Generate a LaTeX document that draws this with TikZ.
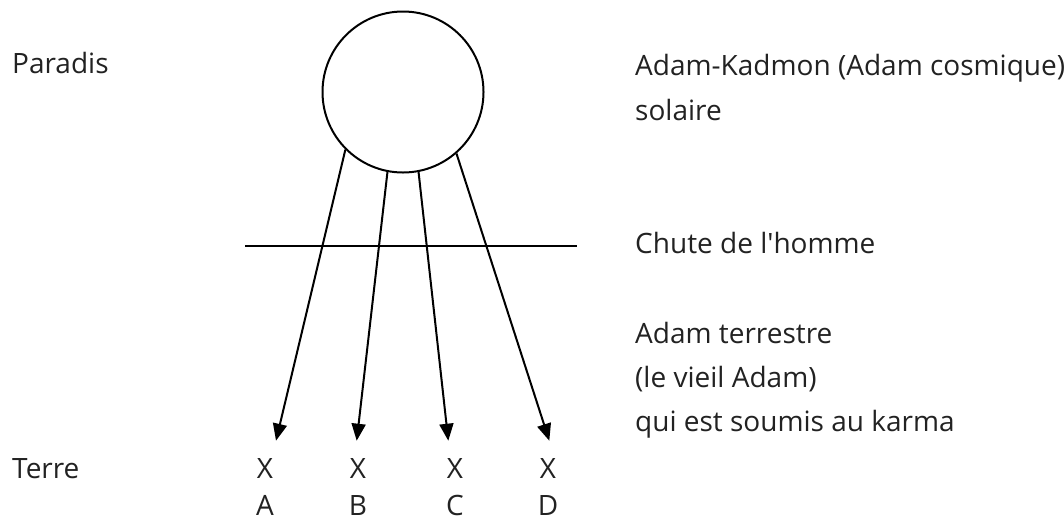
\documentclass[tikz,border=0pt]{standalone}
\usepackage{fontspec}
\newfontfamily\texte{Open Sans}
\usetikzlibrary{arrows.meta}
\definecolor{encre}{HTML}{222222}
\begin{document}
\begin{tikzpicture}[x=1pt, y=-1pt,
    etiquette/.style={font=\texte\fontsize{28}{44}\selectfont, text=encre, inner sep=0pt, anchor=base west},
    lettre/.style={font=\texte\fontsize{28}{44}\selectfont, text=encre, inner sep=0pt, anchor=base},
    fleche/.style={line width=2pt, -{Triangle[length=17pt,width=14pt]}}]
    \useasboundingbox (0,0) rectangle (1064,523);

    % Cercle solaire
    \node[draw, line width=2pt, circle, minimum size=161pt, inner sep=0pt] (soleil) at (403,92) {};

    % Chute de l'homme
    \coordinate (chuteG) at (245,245.7);
    \coordinate (chuteD) at (577,245.7);
    \draw[line width=2pt] (chuteG) -- (chuteD);

    % Pointes des fleches
    \coordinate (pA) at (276,440.7);
    \coordinate (pB) at (356.7,440.7);
    \coordinate (pC) at (448.3,440.7);
    \coordinate (pD) at (549.3,440.7);

    \draw[fleche] (soleil.225.8) -- (pA);
    \draw[fleche] (soleil.259.6) -- (pB);
    \draw[fleche] (soleil.281.8) -- (pC);
    \draw[fleche] (soleil.311) -- (pD);

    % Textes
    \node[etiquette] (paradis) at (12,73) {Paradis};
    \node[etiquette] (terre) at (12,478) {Terre};
    \node[etiquette] (cosmique) at (635,75) {Adam-Kadmon (Adam cosmique)};
    \node[etiquette] (solaire) at (635,120) {solaire};
    \node[etiquette] (chute) at (635,253) {Chute de l'homme};
    \node[etiquette] (terrestre) at (635,343) {Adam terrestre};
    \node[etiquette] (vieil) at (635,387) {(le vieil Adam)};
    \node[etiquette] (karma) at (635,431) {qui est soumis au karma};

    % Croix et lettres
    \foreach \nom/\x in {A/265,B/358,C/455,D/548} {
        \node[lettre] (x\nom) at (\x,478) {X};
        \node[lettre] (l\nom) at (\x,515) {\nom};
    }
\end{tikzpicture}
\end{document}
